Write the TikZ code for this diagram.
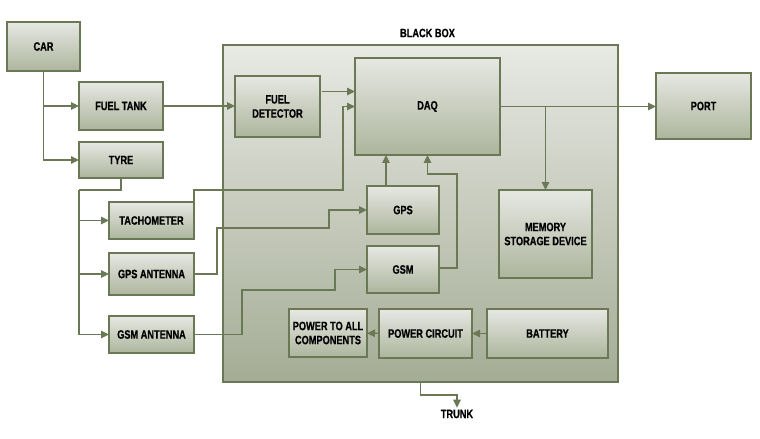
\documentclass[tikz,border=0pt]{standalone}
\usepackage{fontspec}
\setmainfont{Liberation Sans}[FakeStretch=0.76, BoldFeatures={FakeBold=0.6}]
\usepackage{tikz}
\usetikzlibrary{arrows.meta,calc,positioning}
\definecolor{olive-line}{HTML}{6B7856}
\definecolor{box-top}{HTML}{E6E8E2}
\definecolor{box-bottom}{HTML}{ADB59D}
\tikzset{
    green-box/.style = {draw=olive-line, line width=1.1pt, rectangle, top color=box-top, bottom color=box-bottom, outer sep=0pt, inner sep=1pt, align=center, text=black, font=\fontsize{6.9}{8}\selectfont\bfseries},
    box-size/.style 2 args = {minimum width=#1*0.02cm, minimum height=#2*0.02cm},
    plain-text/.style = {inner sep=1pt, text=black, font=\fontsize{6.9}{8}\selectfont\bfseries},
    green-arrow/.style = {draw=olive-line, line width=0.8pt, -{Triangle[length=0.16cm, width=0.15cm]}},
    green-line/.style = {draw=olive-line, line width=0.8pt},
}

\begin{document}
\begin{tikzpicture}[x=0.02cm, y=-0.02cm]
\useasboundingbox (0,0) rectangle (760,439);
\node [green-box, box-size={395}{337}, top color=box-top!95!white, bottom color=box-bottom!95!black] (blackbox) at (420.5,213.5) {};
\node [plain-text] at ([shift={(7,-12)}]blackbox.north) {BLACK BOX};

\node [green-box, box-size={73}{49}] (car) at (43.5,46.5) {CAR};
\node [green-box, box-size={84}{48}] (fueltank) at (121,106) {FUEL TANK};
\node [green-box, box-size={84}{36}] (tyre) at (121,160) {TYRE};
\node [green-box, box-size={85}{37}] (tacho) at (151.5,220.5) {TACHOMETER};
\node [green-box, box-size={85}{42}] (gpsant) at (151.5,274) {GPS ANTENNA};
\node [green-box, box-size={85}{37}] (gsmant) at (151.5,334.5) {GSM ANTENNA};

\node [green-box, box-size={85}{61}] (fueldet) at (277.5,106.5) {FUEL\\DETECTOR};
\node [green-box, box-size={145}{97}] (daq) at (427.5,106.5) {DAQ};
\node [green-box, box-size={72}{48}] (gps) at (403,210) {GPS};
\node [green-box, box-size={72}{47}] (gsm) at (403,269.5) {GSM};
\node [green-box, box-size={93}{88}] (memory) at (545.5,234) {MEMORY\\STORAGE DEVICE};
\node [green-box, box-size={78}{48}] (powerall) at (328,333) {POWER TO ALL\\COMPONENTS};
\node [green-box, box-size={93}{49}] (powercircuit) at (425.5,333.5) {POWER CIRCUIT};
\node [green-box, box-size={121}{49}] (battery) at (547.5,333.5) {BATTERY};
\node [green-box, box-size={95}{66}] (port) at (703.5,106) {PORT};
\node [plain-text] (trunk) at (457,414) {TRUNK};

\coordinate (tyre-split) at (79,190);

\draw [green-arrow] (car) |- (fueltank);
\draw [green-arrow] (car) |- (tyre);
\draw [green-line] (tyre.south) |- (tyre-split);
\draw [green-arrow] (tyre-split) |- (tacho.west);
\draw [green-arrow] (tyre-split) |- (gpsant.west);
\draw [green-arrow] (tyre-split) |- (gsmant.west);

\draw [green-arrow] (fueltank.east) -- (fueltank.east -| fueldet.west);
\draw [green-arrow] ([shift={(2,-15)}]fueldet.east) -- ([shift={(0,-15)}]fueldet.east -| daq.west);
\draw [green-arrow] (tacho.north east) |- (343,190) |- (daq.west);
\draw [green-arrow] (gpsant.east) -| (217,228) -| (329,210) -- (gps.west);
\draw [green-arrow] (gsmant.east) -| (242,290) -- (335,290) |- (gsm.west);
\draw [green-arrow] ([shift={(-17,0)}]gps.north) -- ([shift={(-17,0)}]gps.north |- daq.south);
\draw [green-arrow] ([shift={(0,-1.5)}]gsm.east) -| (457,174) -| (daq.south);

\draw [green-arrow] (daq.east) -- (daq.east -| port.west);
\draw [green-arrow] (daq.east -| memory.north) -- (memory.north);

\draw [green-arrow] (battery) -- (powercircuit);
\draw [green-arrow] (powercircuit) -- (powerall);
\draw [green-arrow] (blackbox.south) |- (457,395) -- (trunk.north);
\end{tikzpicture}
\end{document}
